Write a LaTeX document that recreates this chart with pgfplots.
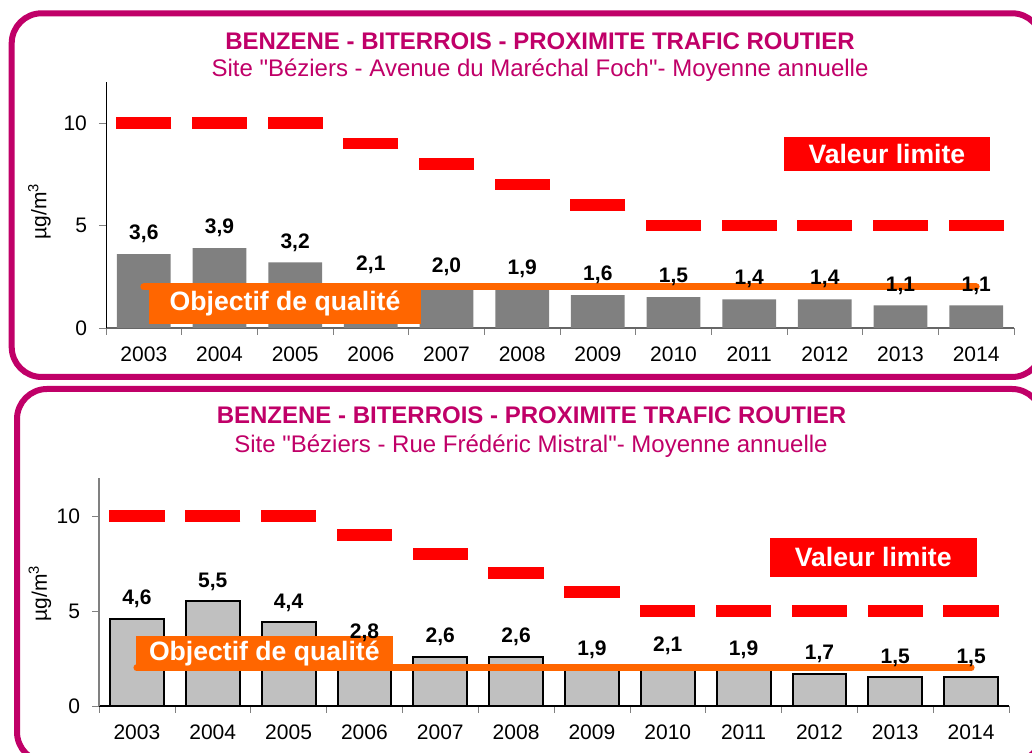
\documentclass[border=0pt]{standalone}
\usepackage{fontspec}
\setmainfont{Liberation Sans}[Ligatures=TeXOff]
\usepackage{pgfplots}
\pgfplotsset{compat=1.18}

\definecolor{titlemag}{RGB}{192,0,104}
\definecolor{limred}{RGB}{255,0,0}
\definecolor{objorange}{RGB}{255,102,0}
\definecolor{bardark}{RGB}{128,128,128}
\definecolor{barlight}{RGB}{192,192,192}

\tikzset{tagbox/.style={fill=#1, text=white, font=\bfseries\fontsize{13.3}{15}\selectfont, inner sep=0pt}}

\pgfplotsset{
  benz/.style={
    scale only axis,
    xmin=-0.5, xmax=11.5, ymin=0, ymax=12,
    axis lines*=left,
    xtick={0,...,11},
    xticklabels={2003,2004,2005,2006,2007,2008,2009,2010,2011,2012,2013,2014},
    major x tick style={draw=none},
    minor xtick={-0.5,0.5,...,11.5},
    ytick={0,5,10},
    tick align=outside,
    major tick length=3.5pt, minor tick length=3.5pt,
    tick label style={font=\fontsize{10.5}{12}\selectfont},
    xticklabel style={yshift=-2.5pt},
    yticklabel style={xshift=-2.5pt},
    /pgf/number format/assume math mode=true,
    clip=false,
  },
  vals/.style={
    only marks, mark=none,
    nodes near coords={\textbf{\pgfmathprintnumber[assume math mode=true,fixed,fixed zerofill,precision=1,use comma]{\pgfplotspointmeta}}},
    point meta=y,
    every node near coord/.append style={font=\bfseries\fontsize{10.5}{12}\selectfont, yshift=2pt},
  },
  lim/.style={only marks, mark=-, mark size=13.8pt, mark options={line width=5.8pt, draw=limred}},
  obj/.style={objorange, line width=3.5pt, line cap=round},
}

\begin{document}
\begin{tikzpicture}
\path[use as bounding box] (0,0) rectangle (516pt,376.5pt);
\clip (0,0) rectangle (516pt,376.5pt);

% frames
\draw[titlemag, line width=3pt, rounded corners=15pt] (5.85pt,369.85pt) rectangle (521pt,188pt);
\draw[titlemag, line width=3pt, rounded corners=15pt] (8.5pt,182pt) rectangle (521pt,-4.5pt);

% titles
\node[anchor=base, text=titlemag, font=\bfseries\fontsize{12}{14}\selectfont] at (270pt,351.8pt) {BENZENE - BITERROIS - PROXIMITE TRAFIC ROUTIER};
\node[anchor=base, text=titlemag, font=\fontsize{12}{14}\selectfont] at (270pt,338pt) {Site "Béziers - Avenue du Maréchal Foch"- Moyenne annuelle};
\node[anchor=base, text=titlemag, font=\bfseries\fontsize{12}{14}\selectfont] at (265.75pt,164.5pt) {BENZENE - BITERROIS - PROXIMITE TRAFIC ROUTIER};
\node[anchor=base, text=titlemag, font=\fontsize{12}{14}\selectfont] at (265.5pt,150pt) {Site "Béziers - Rue Frédéric Mistral"- Moyenne annuelle};

% y labels
\node[rotate=90, font=\fontsize{10.5}{12}\selectfont] at (19.75pt,271pt) {µg/m\textsuperscript{3}};
\node[rotate=90, font=\fontsize{10.5}{12}\selectfont] at (20pt,80pt) {µg/m\textsuperscript{3}};

% top chart
\begin{axis}[benz, at={(53pt,212.5pt)}, anchor=south west, width=454pt, height=123pt,
  x axis line style={draw=black!60, line width=1pt},
  y axis line style={draw=black, line width=0.5pt}]
\addplot[ybar, bar width=0.71, fill=bardark, draw=none] coordinates
  {(0,3.6) (1,3.9) (2,3.2) (3,2.1) (4,2.0) (5,1.9) (6,1.6) (7,1.5) (8,1.4) (9,1.4) (10,1.1) (11,1.1)};
\addplot[lim] coordinates
  {(0,10) (1,10) (2,10) (3,9) (4,8) (5,7) (6,6) (7,5) (8,5) (9,5) (10,5) (11,5)};
\addplot[obj] coordinates {(0,2) (11,2)};
\addplot[vals] coordinates
  {(0,3.6) (1,3.9) (2,3.2) (3,2.1) (4,2.0) (5,1.9) (6,1.6) (7,1.5) (8,1.4) (9,1.4) (10,1.1) (11,1.1)};
\node[tagbox=objorange, minimum width=136pt, minimum height=20.5pt] at (axis cs:1.866,1.19) {Objectif de qualité};
\node[tagbox=limred, minimum width=103pt, minimum height=17pt] at (axis cs:9.82,8.5) {Valeur limite};
\end{axis}

% bottom chart
\begin{axis}[benz, at={(49.5pt,23.5pt)}, anchor=south west, width=455pt, height=114pt,
  x axis line style={draw=black, line width=1pt},
  y axis line style={draw=black!50, line width=1pt}]
\addplot[ybar, bar width=0.71, fill=barlight, draw=black, line width=1pt] coordinates
  {(0,4.6) (1,5.5) (2,4.4) (3,2.8) (4,2.6) (5,2.6) (6,1.9) (7,2.1) (8,1.9) (9,1.7) (10,1.5) (11,1.5)};
\addplot[lim] coordinates
  {(0,10) (1,10) (2,10) (3,9) (4,8) (5,7) (6,6) (7,5) (8,5) (9,5) (10,5) (11,5)};
\addplot[obj] coordinates {(0,2) (11,2)};
\addplot[vals] coordinates
  {(0,4.6) (1,5.5) (2,4.4) (3,2.8) (4,2.6) (5,2.6) (6,1.9) (7,2.1) (8,1.9) (9,1.7) (10,1.5) (11,1.5)};
\node[tagbox=objorange, minimum width=128.5pt, minimum height=17.5pt] at (axis cs:1.68,2.75) {Objectif de qualité};
\node[tagbox=limred, minimum width=103.5pt, minimum height=19.5pt] at (axis cs:9.71,7.83) {Valeur limite};
\end{axis}
\end{tikzpicture}
\end{document}
